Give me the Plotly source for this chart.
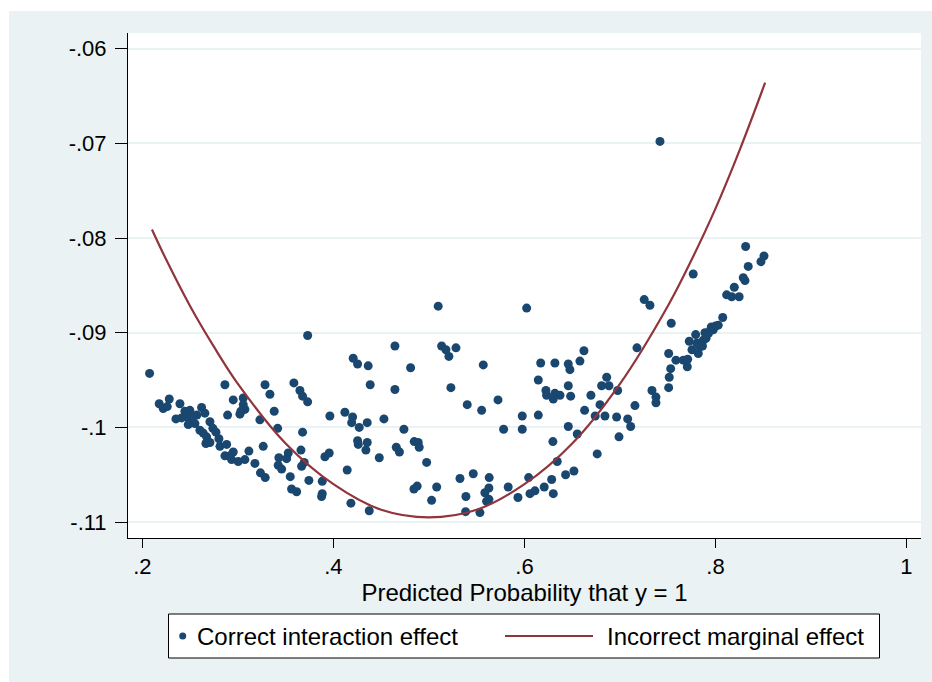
import plotly.graph_objects as go

# ---- data ----
pp_x = [
    0.2075, 0.2176, 0.2218, 0.2281, 0.2260, 0.2393, 0.2351, 0.2410, 0.2445, 0.2497,
    0.2480, 0.2515, 0.2480, 0.2550, 0.2620, 0.2654, 0.2707, 0.2602, 0.2637, 0.2672,
    0.2665, 0.2707, 0.2801, 0.2812, 0.2882, 0.2864, 0.2916, 0.2951, 0.2934, 0.3003,
    0.3073, 0.3115, 0.3178, 0.2864, 0.2951, 0.3056, 0.3056, 0.3073, 0.3031, 0.3021,
    0.2892, 0.2571, 0.2738, 0.2770, 0.2455, 0.2529,
    0.3230, 0.3236, 0.3286, 0.3265, 0.3284, 0.3335, 0.3730, 0.4644, 0.4207, 0.4253,
    0.4364, 0.3586, 0.3649, 0.3677, 0.3730, 0.4385, 0.4644, 0.3380, 0.3963, 0.4120,
    0.4201, 0.4191, 0.4270, 0.4354, 0.4529, 0.3416, 0.3677, 0.4253, 0.4260, 0.4354,
    0.4340, 0.4480, 0.4658, 0.4691, 0.3429, 0.3527, 0.3510, 0.3660, 0.3422, 0.3458,
    0.3667, 0.3694, 0.3911, 0.3956, 0.4144, 0.3548, 0.3743, 0.3883, 0.3562, 0.3615,
    0.3883, 0.3876, 0.4183, 0.4375,
    0.5097, 0.6023, 0.5133, 0.5178, 0.5209, 0.5283, 0.4808, 0.5569, 0.5230, 0.5401,
    0.5552, 0.5723, 0.5977, 0.4738, 0.5782, 0.5977, 0.4846, 0.4888, 0.4898, 0.4976,
    0.5325, 0.5464, 0.5631, 0.5830, 0.4843, 0.4877, 0.5081, 0.5586, 0.5628, 0.5387,
    0.5028, 0.5604, 0.5628, 0.5932, 0.6058, 0.6044, 0.5384, 0.5534,
    0.7254, 0.7314, 0.6170, 0.6319, 0.6459, 0.6476, 0.6581, 0.6623, 0.7178, 0.6145,
    0.6225, 0.6232, 0.6302, 0.6319, 0.6372, 0.6459, 0.6484, 0.6696, 0.6808, 0.6861,
    0.6885, 0.6976, 0.6791, 0.6630, 0.6741, 0.6843, 0.6965, 0.7081, 0.7157, 0.7335,
    0.7377, 0.7377, 0.6145, 0.6459, 0.6553, 0.7112, 0.6990, 0.6298, 0.6762, 0.6343,
    0.6285, 0.6431, 0.6518, 0.6207, 0.6110, 0.6302,
    0.7419, 0.8316, 0.8343, 0.8476, 0.8508, 0.8291, 0.8309, 0.8197, 0.8117, 0.8170,
    0.8248, 0.8076, 0.7767, 0.7537, 0.7956, 0.8000, 0.8029, 0.7977, 0.7925, 0.7901,
    0.7872, 0.7793, 0.7726, 0.7838, 0.7864, 0.7820, 0.7510, 0.7586, 0.7663, 0.7709,
    0.7705, 0.7531, 0.7516, 0.7510, 0.7754, 0.7806, 0.7890, 0.7942,
]
pp_y = [
    -0.0943, -0.0975, -0.0980, -0.0970, -0.0978, -0.0975, -0.0991, -0.0990, -0.0983, -0.0982,
    -0.0990, -0.0994, -0.0997, -0.0996, -0.0979, -0.0985, -0.0994, -0.1003, -0.1006, -0.1010,
    -0.1017, -0.1016, -0.1012, -0.1020, -0.1018, -0.1030, -0.1030, -0.1026, -0.1034, -0.1036,
    -0.1034, -0.1025, -0.1038, -0.0955, -0.0971, -0.0969, -0.0976, -0.0981, -0.0983, -0.0986,
    -0.0987, -0.0987, -0.1001, -0.1005, -0.0986, -0.0988,
    -0.0992, -0.1048, -0.1053, -0.1020, -0.0955, -0.0965, -0.0903, -0.0914, -0.0927, -0.0933,
    -0.0935, -0.0953, -0.0961, -0.0967, -0.0973, -0.0955, -0.0960, -0.0983, -0.0988, -0.0984,
    -0.0989, -0.0995, -0.1000, -0.0995, -0.0991, -0.1001, -0.1005, -0.1014, -0.1018, -0.1016,
    -0.1024, -0.1032, -0.1021, -0.1026, -0.1032, -0.1027, -0.1033, -0.1024, -0.1040, -0.1044,
    -0.1041, -0.1037, -0.1031, -0.1027, -0.1045, -0.1052, -0.1056, -0.1057, -0.1065, -0.1068,
    -0.1070, -0.1073, -0.1080, -0.1088,
    -0.0872, -0.0874, -0.0914, -0.0918, -0.0925, -0.0916, -0.0937, -0.0934, -0.0958, -0.0976,
    -0.0982, -0.0971, -0.0988, -0.1002, -0.1002, -0.1002, -0.1015, -0.1016, -0.1021, -0.1037,
    -0.1054, -0.1049, -0.1053, -0.1063, -0.1065, -0.1062, -0.1063, -0.1069, -0.1064, -0.1073,
    -0.1077, -0.1078, -0.1076, -0.1074, -0.1070, -0.1053, -0.1089, -0.1090,
    -0.0865, -0.0871, -0.0932, -0.0932, -0.0933, -0.0939, -0.0930, -0.0919, -0.0916, -0.0950,
    -0.0961, -0.0966, -0.0970, -0.0964, -0.0966, -0.0956, -0.0967, -0.0966, -0.0956, -0.0947,
    -0.0956, -0.0961, -0.0976, -0.0982, -0.0988, -0.0988, -0.0989, -0.0991, -0.0977, -0.0961,
    -0.0968, -0.0974, -0.0987, -0.0999, -0.1007, -0.0999, -0.1010, -0.1015, -0.1028, -0.1036,
    -0.1055, -0.1050, -0.1046, -0.1063, -0.1067, -0.1070,
    -0.0698, -0.0809, -0.0830, -0.0825, -0.0819, -0.0842, -0.0845, -0.0852, -0.0860, -0.0862,
    -0.0862, -0.0884, -0.0838, -0.0890, -0.0894, -0.0893, -0.0892, -0.0897, -0.0901, -0.0906,
    -0.0908, -0.0902, -0.0909, -0.0915, -0.0914, -0.0922, -0.0922, -0.0929, -0.0929, -0.0928,
    -0.0936, -0.0938, -0.0947, -0.0958, -0.0918, -0.0911, -0.0900, -0.0898,
]

curve_x = [0.21, 0.225, 0.25, 0.275, 0.30, 0.35, 0.40, 0.45, 0.50, 0.55,
           0.60, 0.65, 0.70, 0.75, 0.775, 0.80, 0.825, 0.852]
curve_y = [-0.0791, -0.0823, -0.0872, -0.0915, -0.0954, -0.1017, -0.1060, -0.1087, -0.1095, -0.1087,
           -0.1060, -0.1017, -0.0954, -0.0872, -0.0823, -0.0769, -0.0708, -0.0636]

x_ticks = [0.2, 0.4, 0.6, 0.8, 1.0]
x_tick_labels = [".2", ".4", ".6", ".8", "1"]
y_ticks = [-0.06, -0.07, -0.08, -0.09, -0.10, -0.11]
y_tick_labels = ["-.06", "-.07", "-.08", "-.09", "-.1", "-.11"]

series_names = ["Correct interaction effect", "Incorrect marginal effect"]
x_title = "Predicted Probability that y = 1"

NAVY = "#1A476F"
MAROON = "#90353B"
BG = "#EAF2F3"
FONT = "Liberation Sans, Arial, sans-serif"

fig = go.Figure()
fig.add_trace(go.Scatter(
    x=pp_x, y=pp_y, mode="markers", name=series_names[0], showlegend=False,
    marker=dict(color=NAVY, size=9, line=dict(width=0)),
))
fig.add_trace(go.Scatter(
    x=curve_x, y=curve_y, mode="lines", name=series_names[1], showlegend=False,
    line=dict(color=MAROON, width=2.2, shape="spline"),
))

W, H = 932, 682
L, R, T, B = 128, 11, 33, 144
pw, ph = W - L - R, H - T - B

def px2paper_x(px):
    return (px - L) / pw

def px2paper_y(py):
    return (H - B - py) / ph

# Light outer background (Stata s2color style), leaving a thin white strip top-left
fig.add_shape(type="rect", xref="paper", yref="paper", layer="below",
              x0=px2paper_x(9), x1=px2paper_x(W + 2), y0=px2paper_y(H + 2), y1=px2paper_y(11),
              fillcolor=BG, line=dict(width=0))
# White plot region
fig.add_shape(type="rect", xref="paper", yref="paper", layer="below",
              x0=0, x1=1, y0=0, y1=1, fillcolor="white", line=dict(width=0))

# Legend box (Stata style, drawn below the plot)
leg_top, leg_bot = 614, 658
leg_mid = (leg_top + leg_bot) / 2
fig.add_shape(type="rect", xref="paper", yref="paper",
              x0=px2paper_x(168.5), x1=px2paper_x(879.5),
              y0=px2paper_y(leg_bot), y1=px2paper_y(leg_top),
              fillcolor="white", line=dict(color="black", width=1))
fig.add_shape(type="circle", xref="paper", yref="paper",
              x0=px2paper_x(179.2), x1=px2paper_x(186.2),
              y0=px2paper_y(leg_mid + 3.5), y1=px2paper_y(leg_mid - 3.5),
              fillcolor=NAVY, line=dict(width=0))
fig.add_shape(type="line", xref="paper", yref="paper",
              x0=px2paper_x(505), x1=px2paper_x(593),
              y0=px2paper_y(leg_mid), y1=px2paper_y(leg_mid),
              line=dict(color=MAROON, width=2.2))
fig.add_annotation(text=series_names[0], xref="paper", yref="paper",
                   x=px2paper_x(195), y=px2paper_y(leg_mid), xanchor="left", yanchor="middle",
                   showarrow=False, font=dict(size=24, family=FONT, color="black"))
fig.add_annotation(text=series_names[1], xref="paper", yref="paper",
                   x=px2paper_x(605), y=px2paper_y(leg_mid), xanchor="left", yanchor="middle",
                   showarrow=False, font=dict(size=24, family=FONT, color="black"))

fig.update_layout(
    width=W, height=H,
    margin=dict(l=L, r=R, t=T, b=B, autoexpand=False),
    paper_bgcolor="white",
    plot_bgcolor="rgba(0,0,0,0)",
    font=dict(family=FONT, size=22, color="black"),
    showlegend=False,
)
fig.update_xaxes(
    range=[0.18492, 1.01520], tickvals=x_ticks, ticktext=x_tick_labels,
    showgrid=False, zeroline=False,
    showline=True, linecolor="black", linewidth=1,
    ticks="outside", ticklen=9, tickcolor="black", tickwidth=1,
    ticklabelstandoff=0,
    tickfont=dict(size=22),
    title=dict(text=x_title, font=dict(size=24), standoff=0),
)
fig.update_yaxes(
    range=[-0.11168, -0.05835], tickvals=y_ticks, ticktext=y_tick_labels,
    showgrid=True, gridcolor=BG, gridwidth=2, zeroline=False,
    showline=True, linecolor="black", linewidth=1,
    ticks="outside", ticklen=12, tickcolor="black", tickwidth=1,
    ticklabelstandoff=4,
    tickfont=dict(size=22),
)

fig.write_html("out.html", config={"displayModeBar": False},
               post_script="document.body.style.margin='0';document.body.style.padding='0';")
